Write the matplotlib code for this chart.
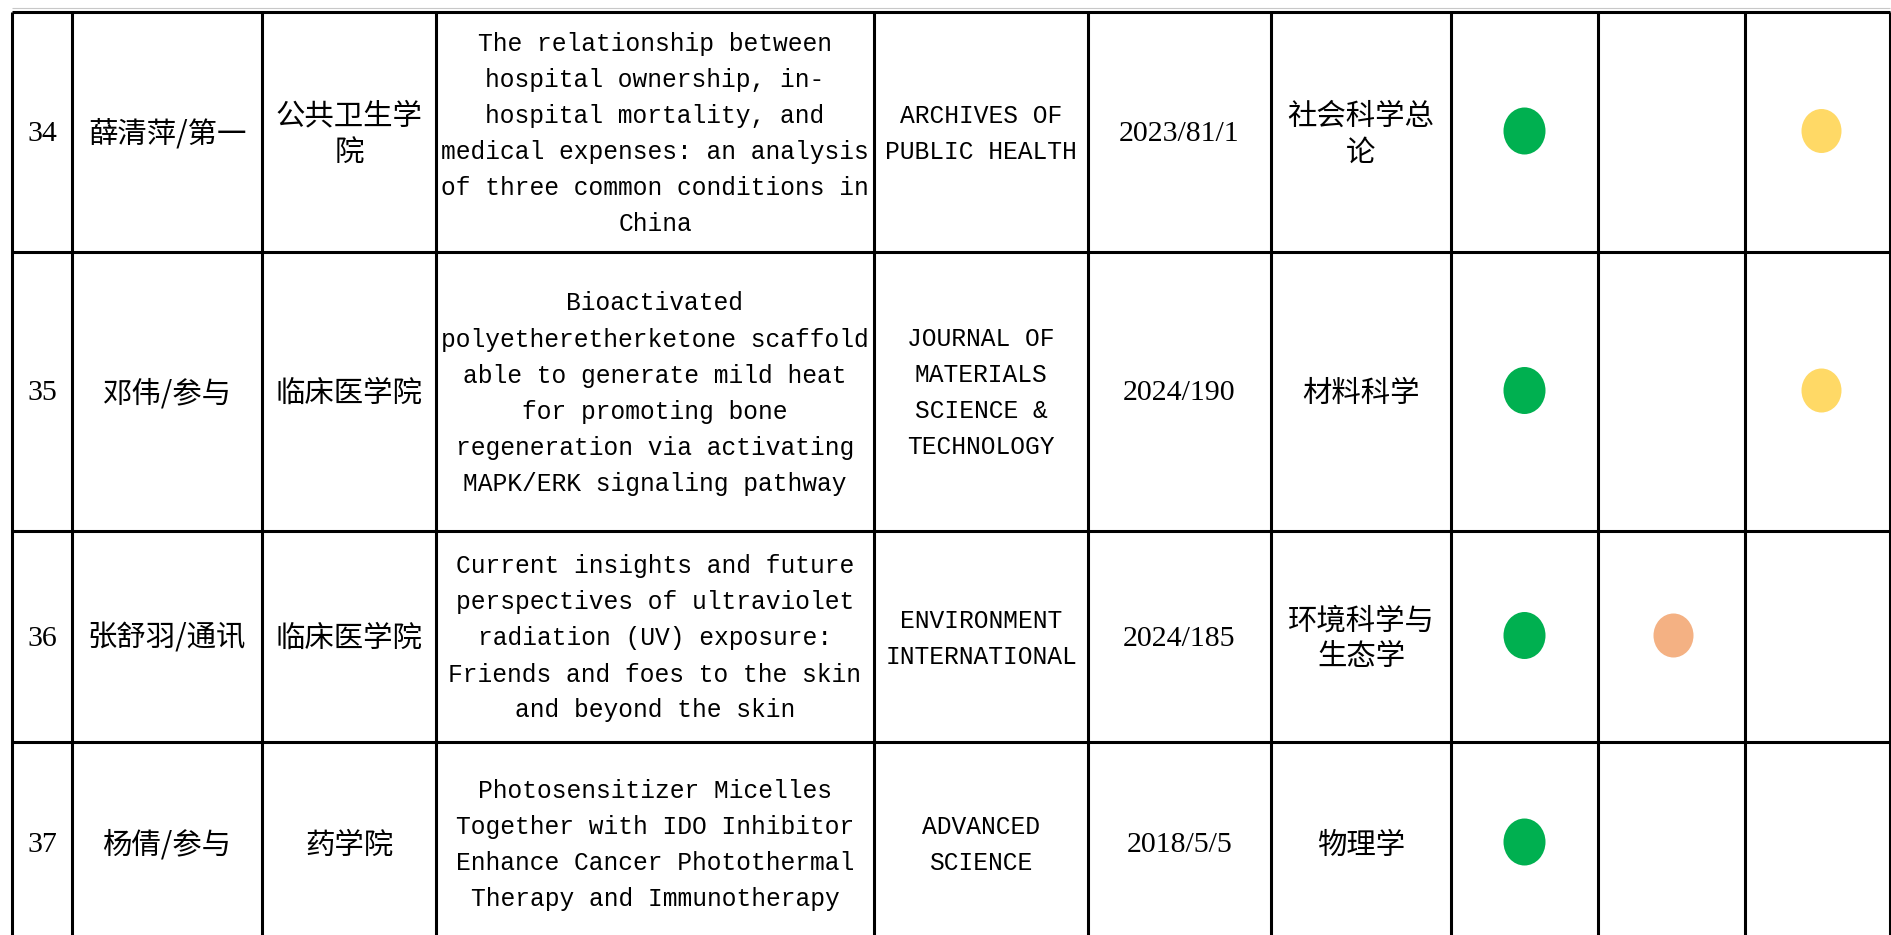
import matplotlib
matplotlib.use("Agg")
import matplotlib.pyplot as plt
from matplotlib.patches import Ellipse

# 表格内容
seq_no = ['34', '35', '36', '37']
authors = ['薛清萍/第一', '邓伟/参与', '张舒羽/通讯', '杨倩/参与']
schools = ['公共卫生学\n院', '临床医学院', '临床医学院', '药学院']
titles = [
    'The relationship between\nhospital ownership, in-\nhospital mortality, and\n'
    'medical expenses: an analysis\nof three common conditions in\nChina',
    'Bioactivated\npolyetheretherketone scaffold\nable to generate mild heat\n'
    'for promoting bone\nregeneration via activating\nMAPK/ERK signaling pathway',
    'Current insights and future\nperspectives of ultraviolet\nradiation (UV) exposure:\n'
    'Friends and foes to the skin\nand beyond the skin',
    'Photosensitizer Micelles\nTogether with IDO Inhibitor\nEnhance Cancer Photothermal\n'
    'Therapy and Immunotherapy',
]
journals = ['ARCHIVES OF\nPUBLIC HEALTH',
            'JOURNAL OF\nMATERIALS\nSCIENCE &\nTECHNOLOGY',
            'ENVIRONMENT\nINTERNATIONAL',
            'ADVANCED\nSCIENCE']
volumes = ['2023/81/1', '2024/190', '2024/185', '2018/5/5']
subjects = ['社会科学总\n论', '材料科学', '环境科学与\n生态学', '物理学']
# 三个标记列 (1 = 有圆点)
mark_green = [1, 1, 1, 1]
mark_orange = [0, 0, 1, 0]
mark_yellow = [1, 1, 0, 0]

# 版式 (像素)
W, H = 1891, 935
col_edges = [12, 72, 262, 436, 874, 1088, 1271, 1451, 1598, 1745, 1890]
row_edges = [12, 252, 531, 742, 944]
line_pitch = 36

latin = ['Liberation Mono', 'Noto Sans CJK SC']
digits = ['Liberation Serif', 'DejaVu Serif']
cjk = ['Noto Sans CJK SC', 'DejaVu Sans']
fs_latin = 17.7
fs_digits = 21.5
fs_cjk = 21.2

fig = plt.figure(figsize=(W / 100, H / 100), dpi=100)
ax = fig.add_axes([0, 0, 1, 1])
ax.set_xlim(0, W)
ax.set_ylim(H, 0)
ax.axis('off')

# 网格线
ax.hlines([8], col_edges[0], col_edges[-1], colors='#c8c8c8', lw=0.8)
ax.hlines(row_edges, col_edges[0], col_edges[-1], colors='black', lw=2.2)
ax.vlines(col_edges, row_edges[0], H + 20, colors='black', lw=2.2)


def cell_text(col, row, text, family, size):
    xc = (col_edges[col] + col_edges[col + 1]) / 2
    yc = (row_edges[row] + row_edges[row + 1]) / 2 + 2
    lines = text.split('\n')
    n = len(lines)
    for i, s in enumerate(lines):
        y = yc + (i - (n - 1) / 2) * line_pitch
        ax.text(xc, y, s, ha='center', va='center', family=family,
                fontsize=size, color='black')


for r in range(len(seq_no)):
    cell_text(0, r, seq_no[r], digits, fs_digits)
    cell_text(1, r, authors[r], cjk, fs_cjk)
    cell_text(2, r, schools[r], cjk, fs_cjk)
    cell_text(3, r, titles[r], latin, fs_latin)
    cell_text(4, r, journals[r], latin, fs_latin)
    cell_text(5, r, volumes[r], digits, fs_digits)
    cell_text(6, r, subjects[r], cjk, fs_cjk)

marks = [(7, mark_green, '#00B050', 42, 47, 0),
         (8, mark_orange, '#F4B183', 40, 44, 2),
         (9, mark_yellow, '#FFD966', 40, 44, 4)]
for col, flags, color, ew, eh, dx in marks:
    xc = (col_edges[col] + col_edges[col + 1]) / 2 + dx
    for r, f in enumerate(flags):
        if f:
            yc = (row_edges[r] + row_edges[r + 1]) / 2 - 1
            ax.add_patch(Ellipse((xc, yc), ew, eh, color=color, lw=0))

fig.savefig('out.png', dpi=100)
